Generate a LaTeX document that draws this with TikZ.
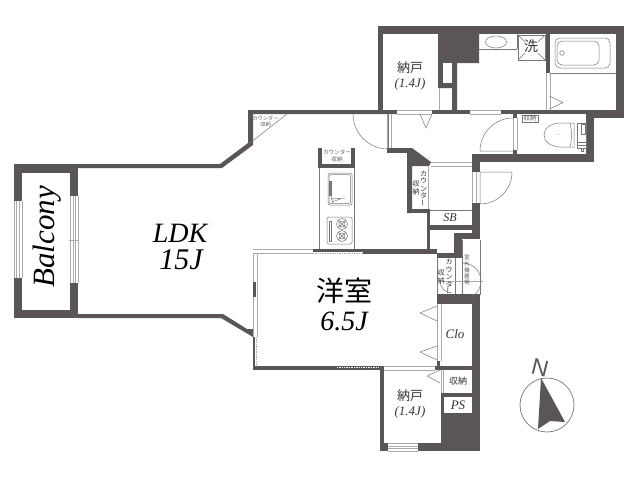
\documentclass[tikz,border=0pt]{standalone}
\usepackage{fontspec}
\setmainfont{Liberation Serif}
\newfontfamily\cjk{Noto Sans CJK JP}
\definecolor{wallc}{HTML}{5A5556}
\definecolor{glassc}{HTML}{AAAAAA}
\definecolor{linec}{HTML}{777777}
\definecolor{txtc}{HTML}{333333}
\newcommand{\wl}[4]{\fill[wallc] (#1,#2) rectangle (#3,#4);}
\newcommand{\wh}[4]{\fill[white] (#1,#2) rectangle (#3,#4);}
\newcommand{\gv}[3]{\fill[white] (#1,#2) rectangle (#1+4,#3); \draw[glassl] (#1,#2) -- (#1,#3) (#1+4,#2) -- (#1+4,#3);}
\newcommand{\gh}[3]{\fill[white] (#2,#1) rectangle (#3,#1+4); \draw[glassl] (#2,#1) -- (#3,#1) (#2,#1+4) -- (#3,#1+4);}
\newcommand{\vkata}{カ\\ウ\\ン\\タ\\\rotatebox{90}{ー}}
\tikzset{
  glassl/.style={draw=glassc,line width=0.7pt},
  thin line/.style={draw=linec,line width=0.5pt},
  ital/.style={font=\itshape,text=txtc,inner sep=0pt},
  small jp/.style={font=\cjk\fontsize{6.5}{7}\selectfont,text=txtc!80,align=center,inner sep=0pt},
  mid jp/.style={font=\cjk\fontsize{13}{14}\selectfont,text=txtc,align=center,inner sep=0pt},
  vert jp/.style={font=\cjk\fontsize{7}{7.4}\selectfont,text=txtc,align=center,inner sep=0pt}
}
\begin{document}
\begin{tikzpicture}[x=1pt,y=-1pt]
\useasboundingbox (0,0) rectangle (640,480);
\fill[white] (0,0) rectangle (640,480);
% Balcony
\wl{14}{164}{78}{173}\wl{14}{164}{22}{201}\wl{14}{278}{22}{318}\wl{14}{310}{78}{318}
\wl{70}{164}{78}{196}\wl{70}{283}{78}{318}
\draw[glassl] (14,201)--(14,278) (16.5,201)--(16.5,278) (19.5,201)--(19.5,278) (22,201)--(22,278);
\draw[glassl] (70,196)--(70,283) (73,196)--(73,283) (75,196)--(75,283) (78,196)--(78,283);
\draw[glassl] (69,240)--(79,240) (73,231)--(73,249);
% LDK walls
\fill[wallc] (78,164)--(220,164)--(248,143)--(248,110)--(397,110)--(397,114)--(253,114)--(253,145)--(222,168)--(78,168)--cycle;
\fill[wallc] (78,314)--(223,314)--(247,329)--(256,329)--(255,338)--(253,337)--(221,318)--(78,318)--cycle;
\draw[thin line] (250,143)--(287,114);
% west side of bedroom
\wl{253}{337}{255}{370}
\draw[glassl,densely dotted] (256.5,337)--(256.5,366);
\gv{253}{250}{337}
\wl{253}{282}{255.5}{297}
\gh{249.5}{253}{313}
\wl{313}{249}{435}{251.5}
\draw[glassl,densely dotted] (313,253)--(363,253);
\wl{363}{249}{437}{254}
\wl{430}{250}{437}{254}
% south of bedroom
\wl{253}{366}{382}{370}
\wl{337}{366}{382}{368}
\draw[white,densely dotted,line width=0.7pt] (337,367)--(382,367);
\gh{366}{383}{435}
\wl{380}{366}{384}{451}
\wl{380}{443}{480}{451}
\wh{388}{443}{418}{451}
\draw[glassl] (388,443)--(418,443) (388,446)--(418,446) (388,448.5)--(418,448.5) (388,451)--(418,451);
\wl{435}{366}{472}{370}
\wl{437}{361}{440}{366}
\fill[wallc] (441,370) rectangle (480,451);
\wl{472}{295}{480}{451}
\wl{437}{295}{480}{304}
\wh{443}{370}{472}{393}
\wh{444}{397}{472}{413}
\draw[glassl] (441,370)--(441,393) (443,370)--(443,393);
\fill[white] (441.5,370) rectangle (442.5,393);
\gv{437}{304}{361}
\draw[thin line] (420,313)--(437,306) (420,313)--(437,321) (420,352)--(437,346) (420,352)--(437,360) (427,376)--(440,370) (427,376)--(440,383);
% upper walls
\wl{378}{26}{624}{34}
\wl{378}{26}{383}{114}
\wl{616}{26}{624}{118}
\wl{586}{110}{624}{118}
\wl{501}{110}{594}{114}
\wl{586}{110}{594}{162}
\wl{472}{154}{594}{162}
\wl{546}{34}{549.5}{73}
\fill[wallc] (438,34)--(479,34)--(479,63)--(457,63)--(457,110)--(452,110)--(452,88)--(443,88)--(438,88)--cycle;
\wh{443}{63}{452}{83}
\draw[glassl] (439,88)--(439,110);
\wl{372}{110}{397}{114}
\gh{110}{397}{432}
\wl{432}{110}{470}{114}
\gh{110}{470}{501}
\wl{501}{110}{513}{112}
\wl{513}{110}{517}{118}
\wl{513}{150}{517}{154}
\gv{513}{118}{150}
\gv{546}{73}{110}
% hall
\gv{387}{114}{148}
\wl{387}{148}{412}{152.5}
\fill[wallc] (407,148)--(412,148)--(431,162)--(429,166)--(412,166)--(412,213)--(407,213)--cycle;
\wl{407}{209}{430}{213}
\wl{427}{209}{430}{250}
\wl{427}{225}{472}{230}
\gh{162}{431}{472}
\draw[glassl] (428.5,166)--(428.5,209);
\wl{472}{154}{480}{172}
\wl{472}{203}{480}{239}
\gv{472}{172}{203}
\wl{454}{233}{480}{239}
\wl{454}{233}{462}{258}
\wl{437}{253}{462}{258}
\draw[thin line] (430,210)--(472,210);
\draw[thin line] (437,258)--(437,294) (455,258)--(455,294) (462,240)--(462,295) (480,240)--(480,295);
\wl{437}{294}{480}{300}
\draw[glassl] (442,281)--(483,281);
\draw[thin line] (463,263) arc[start angle=-90,end angle=60,radius=18];
\draw[thin line] (440,281) arc[start angle=180,end angle=90,radius=12];
% doors
\draw[thin line] (353,114) arc[start angle=180,end angle=90,radius=35] ;
\draw[thin line] (388,114)--(388,149);
\draw[thin line] (513,118) arc[start angle=-90,end angle=-180,radius=33] (480,151)--(513,151);
\draw[thin line] (480,172)--(512,172) arc[start angle=0,end angle=90,radius=32] (480,204)--(480,172);
\draw[thin line] (549.5,96)--(563,102.5)--(549.5,109);
\draw[thin line] (420,114)--(426,128)--(432,114);
% kitchen
\draw[thin line] (319,168)--(319,249) (354,168)--(354,249);
\wl{318}{148}{322}{168}\wl{351}{148}{355}{168}\wl{318}{164}{355}{168}
\draw[thin line,rounded corners=2pt] (328,173) rectangle (352,205);
\draw[thin line,rounded corners=2pt] (329,174.5) rectangle (350.5,203.5);
\fill[linec] (329,181) rectangle (332,196);
\draw[thin line] (331,199)--(345,198) (332,202)--(340,199) (331,196)--(333,203);
\draw[thin line,rounded corners=1.5pt] (327,217) rectangle (352,244);
\draw[thin line] (329,221) rectangle (331,241);
\foreach \yy in {224,236}{
  \draw[thin line] (342,\yy) circle[radius=5.5];
  \draw[thin line] (342,\yy) circle[radius=3];
  \draw[thin line] (338,\yy-4)--(346,\yy+4) (338,\yy+4)--(346,\yy-4);
}
% wash room
\draw[thin line] (479,49)--(517,49) (517,34)--(517,49);
\draw[thin line] (496,42) ellipse[x radius=10.5,y radius=6];
\draw[thin line] (518,35) rectangle (545,60);
\draw[thin line] (518,35)--(525,42) (545,35)--(538,42) (518,60)--(525,53) (545,60)--(538,53);
% bath
\draw[thin line] (550,73)--(616,73);
\draw[thin line,rounded corners=5pt] (555,38) rectangle (610,68);
\draw[thin line,rounded corners=5pt] (557,41) rectangle (599,65);
\draw[thin line] (562,53) circle[radius=2.3];
% toilet
\draw[thin line] (574,123)--(561,123) .. controls (550,123) and (544,129) .. (544,135) .. controls (544,141) and (550,147) .. (561,147)--(574,147)--(574,123);
\draw[thin line] (570,123) .. controls (572,130) and (572,140) .. (570,147);
\draw[thin line] (577,123) rectangle (586,148);
\draw[thin line] (577,142) rectangle (586,145);
\draw[thin line] (581,124) rectangle (585,134);
\draw[thin line] (581,148) rectangle (583,151);
\draw[thin line] (522,115) rectangle (538,122);
\fill[linec] (558,134.5) circle[radius=0.5];
% labels
\node[small jp,font=\cjk\fontsize{5.2}{6}\selectfont] (l1) at (265.5,122) {カウンター\\収納};
\node[small jp,font=\cjk\fontsize{5.6}{6.5}\selectfont] (l2) at (337,156) {カウンター\\収納};
\node[small jp] (l3) at (530,118.5) {収納};
\node[mid jp] (l4) at (410,68) {納戸};
\node[ital,font=\itshape\fontsize{13}{14}\selectfont] (l5) at (410,84) {(1.4J)};
\node[mid jp] (l6) at (410,396) {納戸};
\node[ital,font=\itshape\fontsize{13}{14}\selectfont] (l7) at (410,412) {(1.4J)};
\node[mid jp,font=\cjk\fontsize{14}{14}\selectfont] (l8) at (531,46) {洗};
\node[ital,font=\itshape\fontsize{28}{30}\selectfont,text=black] (l9) at (180,233) {LDK};
\node[ital,font=\itshape\fontsize{30}{32}\selectfont,text=black] (l10) at (181,260) {15J};
\node[ital,font=\itshape\fontsize{31}{32}\selectfont,text=black,rotate=90] (l11) at (47,237) {Balcony};
\node[font=\cjk\fontsize{28}{28}\selectfont,text=black,inner sep=0pt] (l12) at (344,291) {洋室};
\node[ital,font=\itshape\fontsize{28}{30}\selectfont,text=black] (l13) at (344,321) {6.5J};
\node[ital,font=\itshape\fontsize{12}{13}\selectfont] (l14) at (450,218) {SB};
\node[ital,font=\itshape\fontsize{13}{14}\selectfont] (l15) at (455,334) {Clo};
\node[ital,font=\itshape\fontsize{13}{14}\selectfont] (l16) at (458,405) {PS};
\node[mid jp,font=\cjk\fontsize{9}{9}\selectfont] (l17) at (458,381) {収納};
\node[vert jp] (l18) at (423.5,188.5) {\vkata};
\node[vert jp] (l19) at (416,188) {収\\納};
\node[vert jp] (l20) at (449,277) {\vkata};
\node[vert jp] (l21) at (441,277) {収\\納};
\node[vert jp,font=\cjk\fontsize{5.6}{6.1}\selectfont,text=txtc!80] (l22) at (467,270) {室\\外\\機\\置\\場};
% compass
\draw[draw=linec,line width=0.7pt] (547,405) circle[radius=27];
\fill[wallc] (541,378)--(565,422)--(550,421)--(538,429)--cycle;
\node[font=\fontspec{Liberation Sans}\fontsize{23}{23}\selectfont,text=wallc,rotate=-14,inner sep=0pt] (north) at (540,368) {N};
\end{tikzpicture}
\end{document}
